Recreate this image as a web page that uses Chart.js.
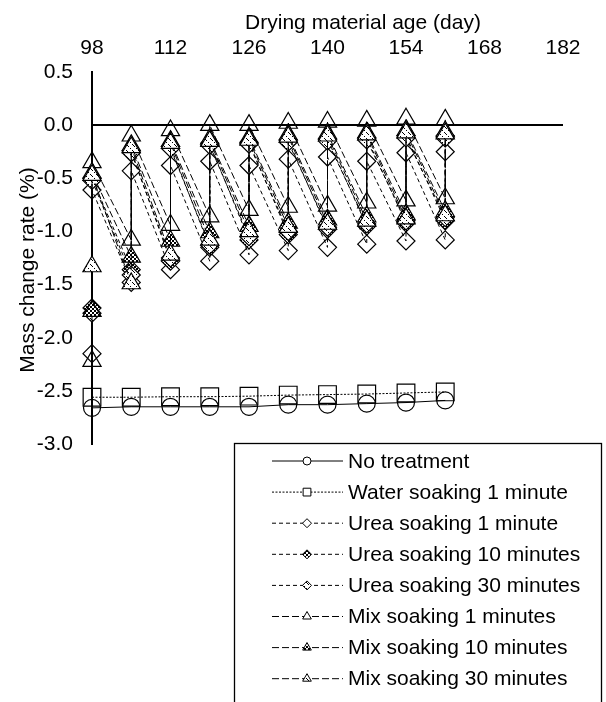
<!DOCTYPE html>
<html>
<head>
<meta charset="utf-8">
<script src="https://cdn.jsdelivr.net/npm/chart.js@4/dist/chart.umd.min.js"></script>
<style>
  html, body { margin: 0; padding: 0; background: #fff; }
  canvas { display: block; }
</style>
</head>
<body>
<canvas id="chart" width="606" height="702" style="width:606px;height:702px"></canvas>
<script>
// Days at which the specimens were weighed
const days = [98, 105, 112, 119, 126, 133, 140, 147, 154, 161];
const xTicks = [98, 112, 126, 140, 154, 168, 182];
const yTicks = [0.5, 0.0, -0.5, -1.0, -1.5, -2.0, -2.5, -3.0];

// Mass change rate (%) of the untreated and water-soaked specimens
const noTreatment = [-2.66, -2.65, -2.65, -2.65, -2.65, -2.63, -2.63, -2.62, -2.61, -2.59];
const waterSoak1 = [-2.56, -2.56, -2.555, -2.555, -2.55, -2.54, -2.535, -2.53, -2.52, -2.51];

// Soaked specimens: value before soaking (low) and right after soaking (high) each day
const urea1Low   = [-2.15, -1.48, -1.36, -1.28, -1.22, -1.18, -1.15, -1.12, -1.09, -1.08];
const urea1High  = [-0.61, -0.43, -0.38, -0.34, -0.38, -0.32, -0.30, -0.34, -0.26, -0.25];
const urea10Low  = [-1.72, -1.36, -1.28, -1.15, -1.08, -1.03, -0.98, -0.95, -0.92, -0.90];
const urea10High = [-0.50, -0.24, -0.20, -0.17, -0.16, -0.14, -0.13, -0.12, -0.10, -0.10];
const urea30Low  = [-1.77, -1.41, -1.25, -1.13, -1.05, -1.00, -0.96, -0.93, -0.90, -0.87];
const urea30High = [-0.52, -0.26, -0.22, -0.19, -0.18, -0.16, -0.15, -0.14, -0.12, -0.12];
const mix1Low    = [-2.22, -1.08, -0.94, -0.86, -0.80, -0.77, -0.76, -0.73, -0.71, -0.69];
const mix1High   = [-0.35, -0.10, -0.05, 0.00, 0.00, 0.02, 0.03, 0.04, 0.06, 0.05];
const mix10Low   = [-1.75, -1.24, -1.09, -1.01, -0.95, -0.92, -0.89, -0.86, -0.84, -0.81];
const mix10High  = [-0.45, -0.19, -0.15, -0.13, -0.12, -0.09, -0.08, -0.07, -0.05, -0.06];
const mix30Low   = [-1.33, -1.49, -1.22, -1.08, -1.00, -0.96, -0.93, -0.90, -0.88, -0.85];
const mix30High  = [-0.47, -0.21, -0.17, -0.15, -0.14, -0.11, -0.10, -0.09, -0.07, -0.08];

const seriesNames = [
  'No treatment', 'Water soaking 1 minute',
  'Urea soaking 1 minute', 'Urea soaking 10 minutes', 'Urea soaking 30 minutes',
  'Mix soaking 1 minutes', 'Mix soaking 10 minutes', 'Mix soaking 30 minutes'
];

const FONT = "'Liberation Sans', Arial, sans-serif";

// Marker fill patterns
function makePattern(size, paint) {
  const c = document.createElement('canvas');
  c.width = c.height = size;
  const g = c.getContext('2d');
  g.fillStyle = '#fff';
  g.fillRect(0, 0, size, size);
  g.fillStyle = '#000';
  paint(g);
  return g.createPattern(c, 'repeat');
}
const checker = makePattern(4, g => { g.fillRect(0, 0, 2, 2); g.fillRect(2, 2, 2, 2); });
const hatch = makePattern(6, g => { g.fillRect(0, 0, 1, 1); g.fillRect(2, 2, 1, 1); g.fillRect(4, 4, 1, 1); g.fillRect(1, 1, 1, 1); });

const plain = values => days.map((d, i) => ({ x: d, y: values[i] }));
const soaked = (low, high) => days.flatMap((d, i) => [{ x: d, y: low[i] }, { x: d, y: high[i] }]);

const styles = [
  { data: plain(noTreatment), pointStyle: 'circle', r: 8.5, fill: 'transparent', dash: [], lr: 4 },
  { data: plain(waterSoak1), pointStyle: 'rect', r: 12.5, fill: 'transparent', dash: [2, 1.5], lr: 5.5 },
  { data: soaked(urea1Low, urea1High), pointStyle: 'rectRot', r: 9, fill: 'transparent', dash: [4, 3], lr: 4.5 },
  { data: soaked(urea10Low, urea10High), pointStyle: 'rectRot', r: 9, fill: checker, dash: [4, 3], lr: 4.5 },
  { data: soaked(urea30Low, urea30High), pointStyle: 'rectRot', r: 9, fill: hatch, dash: [4, 3], lr: 4.5 },
  { data: soaked(mix1Low, mix1High), pointStyle: 'triangle', r: 10.5, fill: 'transparent', dash: [7, 3], lr: 5 },
  { data: soaked(mix10Low, mix10High), pointStyle: 'triangle', r: 10.5, fill: checker, dash: [7, 3], lr: 5 },
  { data: soaked(mix30Low, mix30High), pointStyle: 'triangle', r: 10.5, fill: hatch, dash: [7, 3], lr: 5 }
];

const datasets = styles.map((s, i) => ({
  label: seriesNames[i],
  data: s.data,
  showLine: true,
  borderColor: '#000',
  borderWidth: 1,
  borderDash: s.dash,
  pointStyle: s.pointStyle,
  pointRadius: s.r,
  pointHoverRadius: s.r,
  pointBackgroundColor: s.fill,
  pointBorderColor: '#000',
  pointBorderWidth: 1.2,
  clip: false,
  order: styles.length - i
}));

// Axis titles and the boxed legend below the plot
const decorations = {
  id: 'decorations',
  afterDraw(chart) {
    const ctx = chart.ctx;
    ctx.save();
    ctx.fillStyle = '#000';
    ctx.font = '21px ' + FONT;
    ctx.textAlign = 'center';
    ctx.textBaseline = 'middle';
    ctx.fillText('Drying material age (day)', 363, 23);
    ctx.save();
    ctx.translate(28, 270);
    ctx.rotate(-Math.PI / 2);
    ctx.fillText('Mass change rate (%)', 0, 0);
    ctx.restore();

    // legend box
    ctx.lineWidth = 1.3;
    ctx.strokeStyle = '#000';
    ctx.setLineDash([]);
    ctx.strokeRect(234.5, 443.5, 367, 270);

    ctx.textAlign = 'left';
    styles.forEach((s, i) => {
      const y = 461 + i * 31.1;
      ctx.save();
      ctx.lineWidth = 1;
      ctx.setLineDash(s.dash);
      ctx.beginPath();
      ctx.moveTo(272, y);
      ctx.lineTo(343, y);
      ctx.stroke();
      ctx.restore();
      ctx.save();
      ctx.fillStyle = s.fill === 'transparent' ? '#fff' : s.fill;
      ctx.strokeStyle = '#000';
      ctx.lineWidth = 1;
      ctx.setLineDash([]);
      Chart.helpers.drawPoint(ctx, { pointStyle: s.pointStyle, radius: s.lr, rotation: 0, borderWidth: 1 }, 307, y);
      ctx.restore();
      ctx.fillStyle = '#000';
      ctx.fillText(seriesNames[i], 348, y + 1);
    });
    ctx.restore();
  }
};

Chart.defaults.font.family = FONT;
Chart.defaults.font.size = 21;
Chart.defaults.color = '#000';

new Chart(document.getElementById('chart'), {
  type: 'scatter',
  data: { datasets },
  plugins: [decorations],
  options: {
    responsive: false,
    animation: false,
    devicePixelRatio: 1,
    events: [],
    layout: { padding: { left: 0, top: 0, right: 43, bottom: 258 } },
    plugins: { legend: { display: false }, tooltip: { enabled: false } },
    scales: {
      x: {
        type: 'linear',
        position: 'top',
        min: 98,
        max: 182,
        afterBuildTicks: scale => { scale.ticks = xTicks.map(v => ({ value: v })); },
        afterFit: scale => { scale.height = 72; },
        grid: { display: false, drawTicks: false },
        border: { display: false },
        ticks: { padding: 11, maxRotation: 0, color: '#000', callback: v => String(v) }
      },
      y: {
        type: 'linear',
        min: -3,
        max: 0.5,
        afterBuildTicks: scale => { scale.ticks = yTicks.map(v => ({ value: v })); },
        afterFit: scale => { scale.width = 92; },
        grid: {
          drawTicks: false,
          lineWidth: 2,
          color: ctx => (ctx.tick && ctx.tick.value === 0 ? '#000' : 'rgba(0,0,0,0)')
        },
        border: { display: true, color: '#000', width: 2 },
        ticks: { padding: 19, color: '#000', callback: v => Number(v).toFixed(1) }
      }
    }
  }
});
</script>
</body>
</html>
